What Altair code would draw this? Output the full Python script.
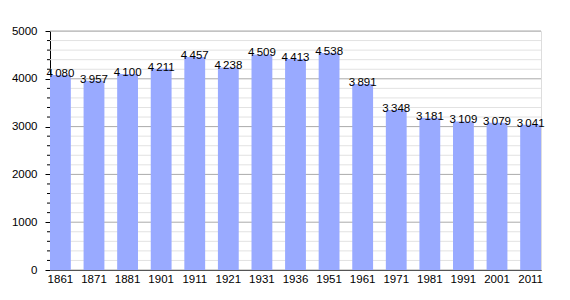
import altair as alt
import pandas as pd

years = ["1861", "1871", "1881", "1901", "1911", "1921", "1931", "1936", "1951",
         "1961", "1971", "1981", "1991", "2001", "2011"]
population = [4080, 3957, 4100, 4211, 4457, 4238, 4509, 4413, 4538,
              3891, 3348, 3181, 3109, 3079, 3041]
major_ticks = [0, 1000, 2000, 3000, 4000, 5000]
minor_ticks = [v for v in range(0, 5001, 200) if v % 1000 != 0]

df = pd.DataFrame({"year": years, "pop": population})
df["label"] = [f"{v:,}".replace(",", "\u2009") for v in population]
minor_df = pd.DataFrame({"v": minor_ticks})
major_df = pd.DataFrame({"v": major_ticks})

FONT = "Liberation Sans Narrow, Liberation Sans, Arial, sans-serif"
yscale = alt.Scale(domain=[0, 5000], nice=False)

x = alt.X("year:N", sort=years, title=None,
          scale=alt.Scale(paddingInner=0.38, paddingOuter=0),
          axis=alt.Axis(labelAngle=0, ticks=False, labelPadding=3,
                        domainColor="black", labelFont=FONT, labelFontSize=11.5,
                        labelColor="black"))

minor_grid = alt.Chart(minor_df).mark_rule(color="#e2e2e2", strokeWidth=1).encode(
    y=alt.Y("v:Q", scale=yscale, title=None,
            axis=alt.Axis(values=major_ticks, format="d", grid=False, tickSize=5,
                          tickColor="black", domainColor="black",
                          labelPadding=8, labelFont=FONT, labelFontSize=11.5,
                          labelColor="black", labelFlush=False,
                          labelOverlap=False)),
    x=alt.value(0), x2=alt.value(491))
major_grid = alt.Chart(major_df).mark_rule(color="#aaaaaa", strokeWidth=1).encode(
    y=alt.Y("v:Q", scale=yscale), x=alt.value(0), x2=alt.value(491))
minor_tick = alt.Chart(minor_df).mark_rule(color="black", strokeWidth=1).encode(
    y=alt.Y("v:Q", scale=yscale), x=alt.value(-3), x2=alt.value(0))

bars = alt.Chart(df).mark_bar(color="#99aaff").encode(
    x=x, y=alt.Y("pop:Q", scale=yscale))
labels = alt.Chart(df).mark_text(baseline="alphabetic", dy=2, font=FONT,
                                 fontSize=11.5, color="black").encode(
    x=alt.X("year:N", sort=years), y=alt.Y("pop:Q", scale=yscale), text="label:N")

chart = alt.layer(minor_grid, major_grid, minor_tick, bars, labels).properties(
    width=491, height=239,
    autosize=alt.AutoSizeParams(type="none"),
    padding={"left": 50, "top": 31, "right": 29, "bottom": 30},
).configure_view(stroke=None).configure(background="white")

chart.save("out.html", embed_options={"renderer": "svg", "actions": False})
